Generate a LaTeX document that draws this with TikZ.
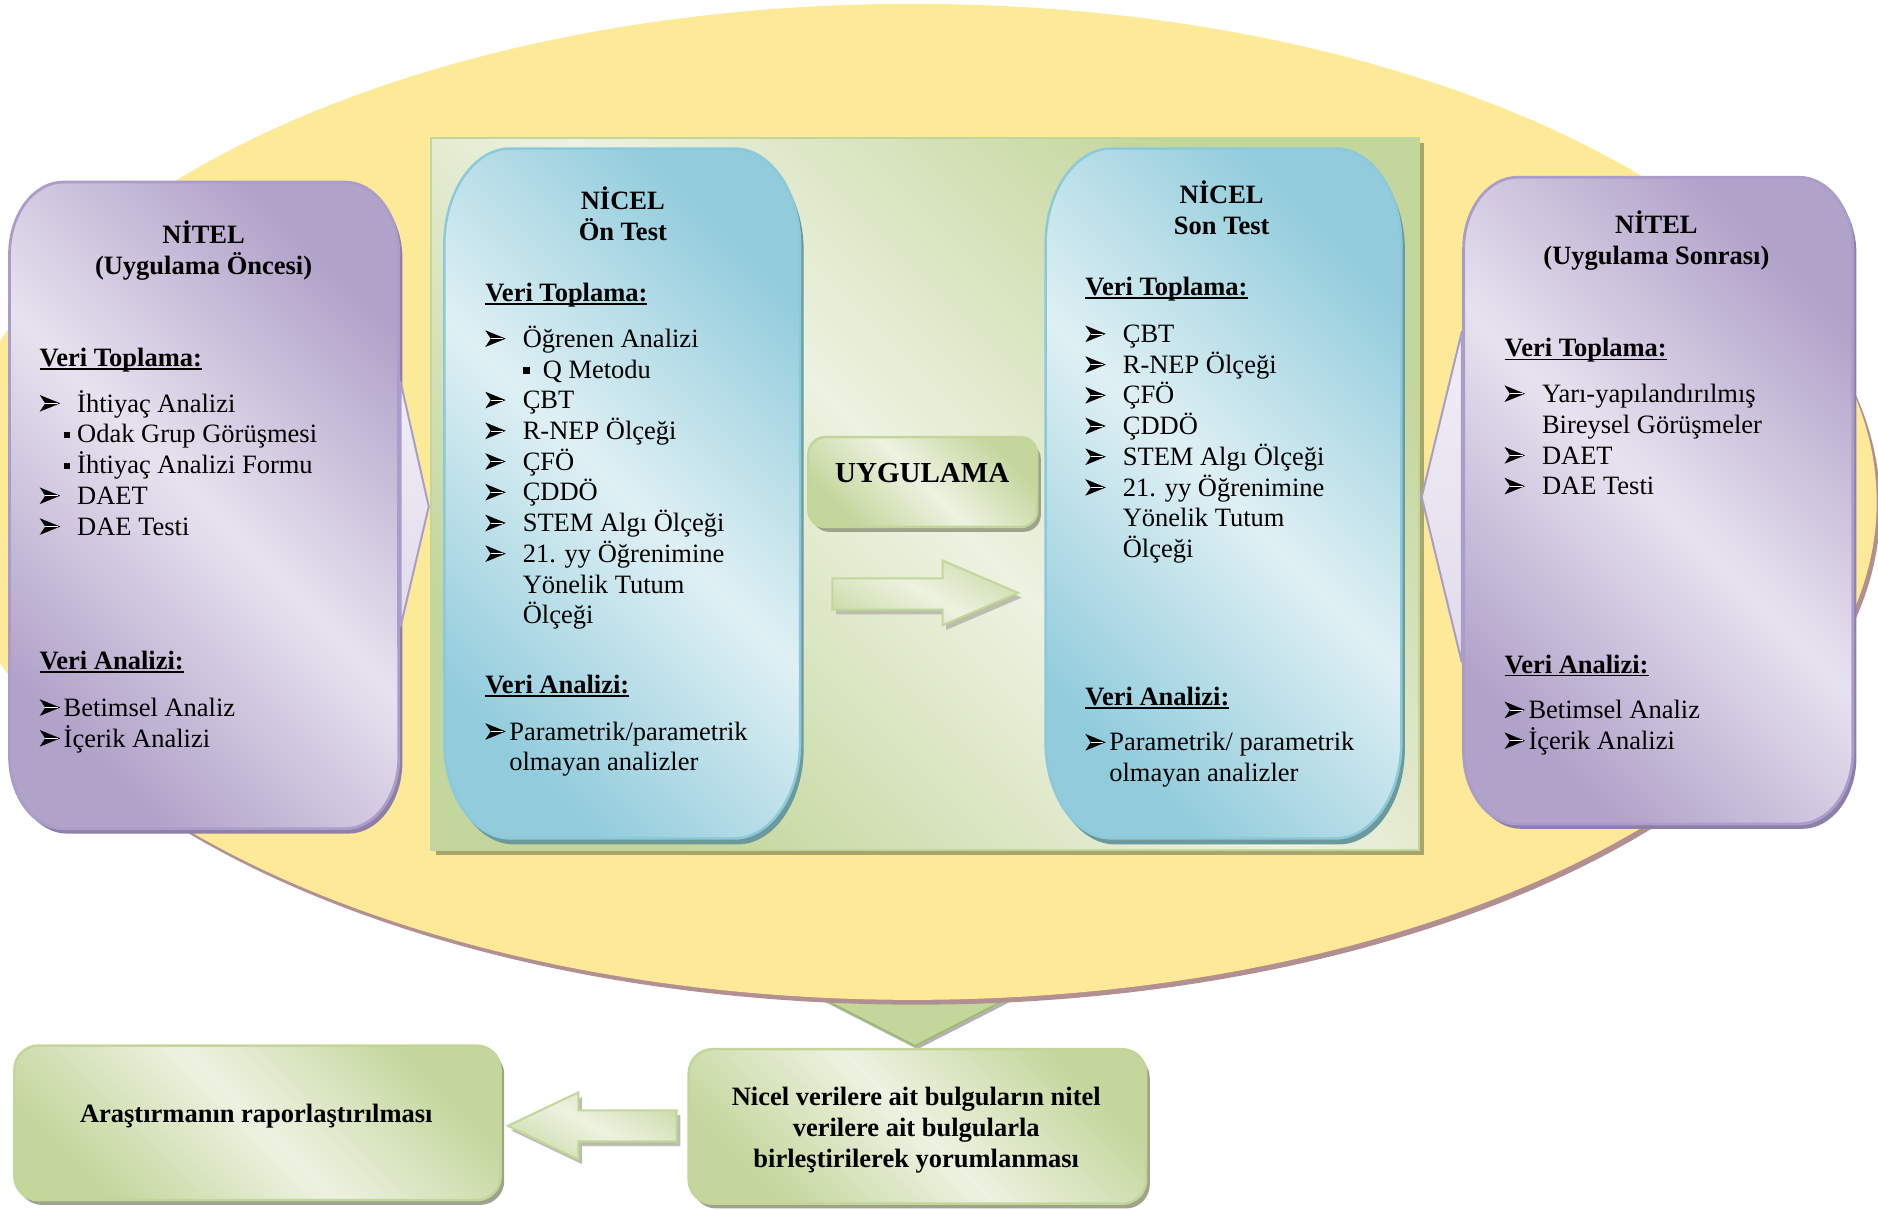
\documentclass[tikz,border=0pt]{standalone}
\usepackage{fontspec}
\setmainfont{Liberation Serif}

% rounded rectangle with elliptic corners: x1,y1,x2,y2,rx,ry
\newcommand\rrect[6]{(#1,#2+#6) .. controls (#1,#2+0.45*#6) and (#1+0.45*#5,#2) .. (#1+#5,#2) -- (#3-#5,#2) .. controls (#3-0.45*#5,#2) and (#3,#2+0.45*#6) .. (#3,#2+#6) -- (#3,#4-#6) .. controls (#3,#4-0.45*#6) and (#3-0.45*#5,#4) .. (#3-#5,#4) -- (#1+#5,#4) .. controls (#1+0.45*#5,#4) and (#1,#4-0.45*#6) .. (#1,#4-#6) -- cycle}

% list markers
\newcommand\arrowglyph{\tikz[baseline=0pt,x=1pt,y=1pt]{\fill[black] (0,17) -- (20.5,8.7) -- (0,0.4) -- (5.5,8.7) -- cycle; \draw[white,line width=0.6pt] (5.5,8.7) -- (18,8.7);}}
\newcommand\A{\makebox[37.5pt][l]{\arrowglyph}}
\newcommand\B{\makebox[24pt][l]{\arrowglyph}}
\newcommand\sq{\rule[4.5pt]{6.5pt}{6.5pt}}
\newcommand\ulx[1]{\setbox0=\hbox{#1}\rlap{\rule[-3.3pt]{\wd0}{1.7pt}}\box0}

\definecolor{ellY}{HTML}{FDEA98}
\definecolor{ellS}{HTML}{B28F90}
\definecolor{purL}{HTML}{E7E2EF}
\definecolor{purD}{HTML}{B1A2C9}
\definecolor{purB}{HTML}{AB9DC9}
\definecolor{purS}{HTML}{8E7FA9}
\definecolor{bluL}{HTML}{DFF0F4}
\definecolor{bluD}{HTML}{92CCDC}
\definecolor{bluB}{HTML}{8CC9DA}
\definecolor{bluS}{HTML}{6C9A9C}
\definecolor{grnL}{HTML}{EDF2E1}
\definecolor{grnD}{HTML}{C3D69B}
\definecolor{grnB}{HTML}{C2D69A}
\definecolor{pnlS}{HTML}{A7A46C}
\definecolor{boxS}{HTML}{9EA38C}
\definecolor{triB}{HTML}{9BBB59}

\begin{document}
\begin{tikzpicture}[x=1.1977pt,y=-1.1977pt,
  txt/.style={font=\fontsize{26.5}{30.8}\selectfont, inner sep=0pt, anchor=base west},
  ttl/.style={font=\fontsize{26.5}{30.8}\selectfont\bfseries, inner sep=0pt, anchor=base},
  purfill/.style={top color=purD, bottom color=purD, middle color=purL, shading angle=-45, draw=purB, line width=2.8pt},
  blufill/.style={top color=bluD, bottom color=bluD, middle color=bluL, shading angle=-45, draw=bluB, line width=2.5pt},
  grnfill/.style={top color=grnD, bottom color=grnD, middle color=grnL, shading angle=-45, draw=grnB, line width=2.5pt},
  arrfill/.style={top color=grnD!80, bottom color=grnD!80, middle color=grnL, shading angle=-30, draw=grnB, line width=2pt},
  pointfill/.style={top color=purL!60!white, bottom color=purL!90!purD, draw=purB, line width=2pt, line join=round}]

\useasboundingbox (0,0) rectangle (1568,1010);
\clip (0,0) rectangle (1568,1010);

% downward pointer below the ellipse
\fill[black!30, shift={(2,3)}] (668,824) -- (764,873) -- (860,824) -- cycle;
\filldraw[fill=grnD, draw=triB, line width=1.2pt] (668,824) -- (764,873) -- (860,824) -- cycle;

% yellow ellipse
\fill[ellS] (765,423) ellipse[x radius=964pt, y radius=498pt];
\fill[ellY] (762,419) ellipse[x radius=964pt, y radius=498pt];

% central green panel
\fill[pnlS] (364,119) rectangle (1189,714);
\shade[grnfill, line width=2pt] (360,115) rectangle (1185,710);

% blue boxes
\fill[bluS, shift={(3,5)}] \rrect{371}{124}{668}{700}{55}{80};
\shade[blufill] \rrect{371}{124}{668}{700}{55}{80};
\fill[bluS, shift={(3,5)}] \rrect{873}{124}{1170}{700}{55}{80};
\shade[blufill] \rrect{873}{124}{1170}{700}{55}{80};

% UYGULAMA box and arrow
\fill[boxS, shift={(3,4)}] \rrect{675}{365}{866}{440}{14}{14};
\shade[grnfill] \rrect{675}{365}{866}{440}{14}{14};
\fill[boxS!70, shift={(3,4)}] (695,483) -- (787,483) -- (787,468) -- (850,495) -- (787,522) -- (787,509) -- (695,509) -- cycle;
\shade[arrfill] (695,483) -- (787,483) -- (787,468) -- (850,495) -- (787,522) -- (787,509) -- (695,509) -- cycle;

% purple boxes
\fill[purS, shift={(3,4)}] \rrect{8}{152}{333}{692}{45}{60};
\shade[purfill] \rrect{8}{152}{333}{692}{45}{60};
\shade[pointfill] (334.5,319) -- (358,423) -- (334.5,523) -- cycle;
\draw[purB, line width=2.8pt] (333,300) -- (333,540);
\fill[purS, shift={(3,4)}] \rrect{1222}{148}{1547}{688}{45}{60};
\shade[purfill] \rrect{1222}{148}{1547}{688}{45}{60};
\shade[pointfill] (1220.5,277) -- (1187,415) -- (1220.5,553) -- cycle;
\draw[purB, line width=2.8pt] (1222,260) -- (1222,570);

% bottom boxes and arrow
\fill[boxS, shift={(3,4)}] \rrect{12}{873}{418}{1002}{20}{20};
\shade[grnfill] \rrect{12}{873}{418}{1002}{20}{20};
\fill[boxS, shift={(3,4)}] \rrect{575}{876}{957}{1005}{20}{20};
\shade[grnfill] \rrect{575}{876}{957}{1005}{20}{20};
\fill[boxS!70, shift={(3,4)}] (565,927) -- (483,927) -- (483,912) -- (424,940) -- (483,968) -- (483,953) -- (565,953) -- cycle;
\shade[arrfill] (565,927) -- (483,927) -- (483,912) -- (424,940) -- (483,968) -- (483,953) -- (565,953) -- cycle;

% ---- texts: left qualitative box
\node[ttl] (ln1) at (170,203) {NİTEL};
\node[ttl] (ln2) at (170,229) {(Uygulama Öncesi)};
\node[txt] (lh1) at (33,306) {\ulx{\bfseries Veri Toplama:}};
\foreach \t [count=\i from 0] in {{\A İhtiyaç Analizi},{\hspace*{24pt}\makebox[13.5pt][l]{\sq}Odak Grup Görüşmesi},{\hspace*{24pt}\makebox[13.5pt][l]{\sq}İhtiyaç Analizi Formu},{\A DAET},{\A DAE Testi}}
  \node[txt] (la\i) at (33,344+25.72*\i) {\t};
\node[txt] (lh2) at (33,559) {\ulx{\bfseries Veri Analizi:}};
\foreach \t [count=\i from 0] in {{\B Betimsel Analiz},{\B İçerik Analizi}}
  \node[txt] (lb\i) at (33,598+25.72*\i) {\t};

% ---- pre-test box
\node[ttl] (an1) at (520,175) {NİCEL};
\node[ttl] (an2) at (520,201) {Ön Test};
\node[txt] (ah1) at (405,252) {\ulx{\bfseries Veri Toplama:}};
\foreach \t [count=\i from 0] in {{\A Öğrenen Analizi},{\hspace*{38pt}\makebox[19.5pt][l]{\sq}Q Metodu},{\A ÇBT},{\A R-NEP Ölçeği},{\A ÇFÖ},{\A ÇDDÖ},{\A STEM Algı Ölçeği},{\A 21. yy Öğrenimine},{\hspace*{37.5pt}Yönelik Tutum},{\hspace*{37.5pt}Ölçeği}}
  \node[txt] (aa\i) at (405,290+25.65*\i) {\t};
\node[txt] (ah2) at (405,579) {\ulx{\bfseries Veri Analizi:}};
\foreach \t [count=\i from 0] in {{\B Parametrik/parametrik},{\hspace*{24pt}olmayan analizler}}
  \node[txt] (ab\i) at (405,618+25.72*\i) {\t};

% ---- implementation
\node[font=\fontsize{29}{33}\selectfont\bfseries, inner sep=0pt, anchor=base] (uyg) at (770,403) {UYGULAMA};

% ---- post-test box
\node[ttl] (bn1) at (1020,170) {NİCEL};
\node[ttl] (bn2) at (1020,196) {Son Test};
\node[txt] (bh1) at (906,247) {\ulx{\bfseries Veri Toplama:}};
\foreach \t [count=\i from 0] in {{\A ÇBT},{\A R-NEP Ölçeği},{\A ÇFÖ},{\A ÇDDÖ},{\A STEM Algı Ölçeği},{\A 21. yy Öğrenimine},{\hspace*{37.5pt}Yönelik Tutum},{\hspace*{37.5pt}Ölçeği}}
  \node[txt] (ba\i) at (906,286+25.65*\i) {\t};
\node[txt] (bh2) at (906,589) {\ulx{\bfseries Veri Analizi:}};
\foreach \t [count=\i from 0] in {{\B Parametrik/ parametrik},{\hspace*{24pt}olmayan analizler}}
  \node[txt] (bb\i) at (906,627+25.72*\i) {\t};

% ---- right qualitative box
\node[ttl] (rn1) at (1383,195) {NİTEL};
\node[ttl] (rn2) at (1383,221) {(Uygulama Sonrası)};
\node[txt] (rh1) at (1256,298) {\ulx{\bfseries Veri Toplama:}};
\foreach \t [count=\i from 0] in {{\A Yarı-yapılandırılmış},{\hspace*{37.5pt}Bireysel Görüşmeler},{\A DAET},{\A DAE Testi}}
  \node[txt] (ra\i) at (1256,336+25.72*\i) {\t};
\node[txt] (rh2) at (1256,562) {\ulx{\bfseries Veri Analizi:}};
\foreach \t [count=\i from 0] in {{\B Betimsel Analiz},{\B İçerik Analizi}}
  \node[txt] (rb\i) at (1256,600+25.72*\i) {\t};

% ---- bottom boxes
\node[ttl] (rep) at (214,937) {Araştırmanın raporlaştırılması};
\node[ttl] (c1) at (765,923) {Nicel verilere ait bulguların nitel};
\node[ttl] (c2) at (765,949) {verilere ait bulgularla};
\node[ttl] (c3) at (765,975) {birleştirilerek yorumlanması};
\end{tikzpicture}
\end{document}
